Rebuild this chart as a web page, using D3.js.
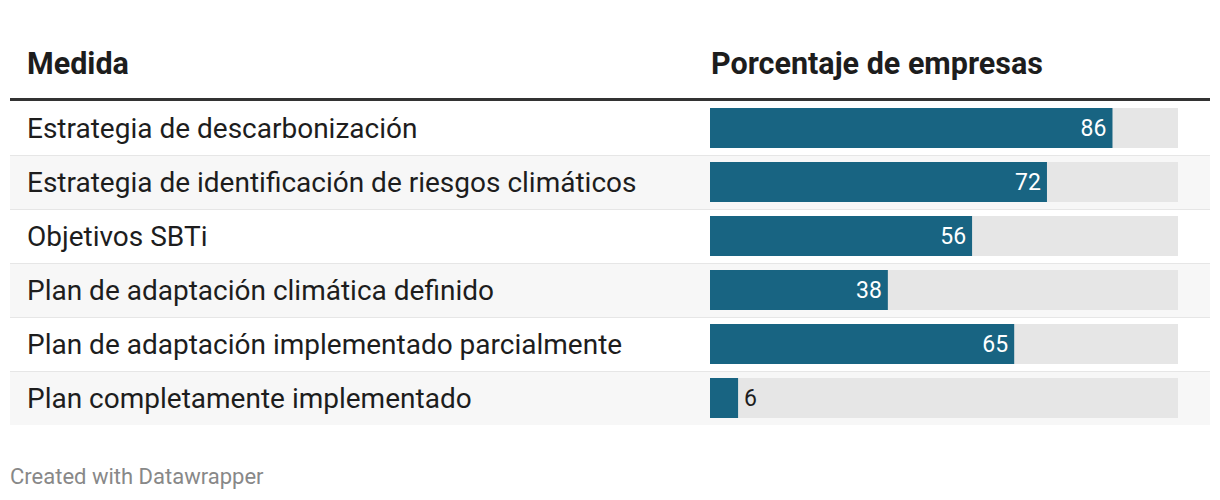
<!DOCTYPE html>
<html><head><meta charset="utf-8">
<script src="https://cdn.jsdelivr.net/npm/d3@7"></script>
<style>body{margin:0;background:#fff;font-family:Roboto,sans-serif;}</style>
</head><body><svg id="c" width="1220" height="500"></svg>
<script>
const categories = ["Estrategia de descarbonización","Estrategia de identificación de riesgos climáticos","Objetivos SBTi","Plan de adaptación climática definido","Plan de adaptación implementado parcialmente","Plan completamente implementado"];
const values = [86,72,56,38,65,6];
const headers = ["Medida","Porcentaje de empresas"];

(function(){
const svg = d3.select("#c");
const left = 10, right = 1210, top0 = 101, rowH = 54;
const x = d3.scaleLinear().domain([0,100]).range([710,1178]);
const y = d3.scaleBand().domain(categories).range([top0, top0 + rowH*categories.length]);

svg.append("text").attr("x",27).attr("y",74).attr("font-size",30.5).attr("font-weight",700).attr("fill","#1d1d1d").text(headers[0]);
svg.append("text").attr("x",711).attr("y",74).attr("font-size",30.5).attr("font-weight",700).attr("fill","#1d1d1d").text(headers[1]);
svg.append("rect").attr("x",left).attr("y",98).attr("width",right-left).attr("height",3).attr("fill","#333");

const rows = svg.selectAll("g.row").data(categories).join("g").attr("class","row")
  .attr("transform", d => `translate(0,${y(d)})`);
rows.append("rect").attr("x",left).attr("y",0).attr("width",right-left).attr("height",rowH)
  .attr("fill",(d,i)=> i%2 ? "#f7f7f7" : "#ffffff");
rows.filter((d,i)=> i>0).append("rect").attr("x",left).attr("y",0).attr("width",right-left).attr("height",1).attr("fill","#e6e6e6");
rows.append("text").attr("x",27).attr("y",37).attr("font-size",28).attr("fill","#1d1d1d").text(d=>d);
rows.append("rect").attr("x",x(0)).attr("y",7).attr("width",x(100)-x(0)).attr("height",40).attr("fill","#e6e6e6");
rows.append("rect").attr("x",x(0)).attr("y",7).attr("width",(d,i)=>x(values[i])-x(0)).attr("height",40).attr("fill","#186482");
rows.append("text")
  .attr("x",(d,i)=> values[i] > 10 ? x(values[i]) - 6 : x(values[i]) + 6)
  .attr("y",35).attr("font-size",23)
  .attr("text-anchor",(d,i)=> values[i] > 10 ? "end" : "start")
  .attr("fill",(d,i)=> values[i] > 10 ? "#ffffff" : "#1d1d1d")
  .text((d,i)=>values[i]);

svg.append("text").attr("x",10).attr("y",484).attr("font-size",22).attr("fill","#888").text("Created with Datawrapper");
})();
</script></body></html>
